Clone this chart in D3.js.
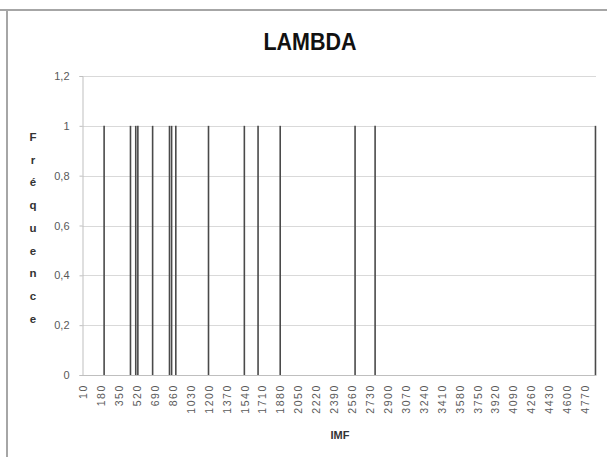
<!DOCTYPE html>
<html><head><meta charset="utf-8">
<script src="https://cdn.jsdelivr.net/npm/d3@7"></script>
<style>body{margin:0;background:#fff}svg{display:block}</style>
</head><body>
<script>
const title = "LAMBDA";
const xTitle = "IMF";
const yTitle = "Fréquence";
const imfValues = [210, 460, 510, 530, 670, 830, 850, 890, 1200, 1540, 1670, 1880, 2590, 2780, 4870];
const frequencies = [1, 1, 1, 1, 1, 1, 1, 1, 1, 1, 1, 1, 1, 1, 1];
const xTickLabels = [10,180,350,520,690,860,1030,1200,1370,1540,1710,1880,2050,2220,2390,2560,2730,2900,3070,3240,3410,3580,3750,3920,4090,4260,4430,4600,4770];
const yTickLabels = [0, 0.2, 0.4, 0.6, 0.8, 1, 1.2];

(function () {
const W = 609, H = 457;
const svg = d3.select("body").append("svg").attr("width", W).attr("height", H);

// outer frame fragments
svg.append("line").attr("x1",0).attr("x2",607).attr("y1",10).attr("y2",10).attr("stroke","#a6a6a6").attr("stroke-width",2);
svg.append("line").attr("x1",7).attr("x2",7).attr("y1",10).attr("y2",H).attr("stroke","#a6a6a6").attr("stroke-width",2);

const mLeft = 82.5, mRight = 596, mTop = 76, mBottom = 375;
const x = d3.scaleLinear().domain([5, 4875]).range([mLeft, mRight]);
const y = d3.scaleLinear().domain([0, 1.2]).range([mBottom, mTop]);

// gridlines
svg.append("g").selectAll("line").data(yTickLabels.filter(d => d > 0)).join("line")
  .attr("x1", mLeft).attr("x2", mRight)
  .attr("y1", d => Math.round(y(d)) + 0.5).attr("y2", d => Math.round(y(d)) + 0.5)
  .attr("stroke", "#d9d9d9").attr("stroke-width", 1);

// y axis
const yAxis = d3.axisLeft(y).tickValues(yTickLabels).tickSize(3).tickPadding(10)
  .tickFormat(d => String(d).replace(".", ","));
const gy = svg.append("g").attr("transform", `translate(${mLeft},0)`).call(yAxis);
gy.select(".domain").attr("stroke", "#bfbfbf");
gy.selectAll(".tick line").attr("stroke", "#bfbfbf");
gy.selectAll(".tick text").attr("fill", "#595959").attr("font-size", 11)
  .attr("font-family", "Liberation Sans, Arial, sans-serif");

// x axis
const xAxis = d3.axisBottom(x).tickValues(xTickLabels).tickSize(0).tickPadding(0)
  .tickFormat(d3.format("d"));
const gx = svg.append("g").attr("transform", `translate(0,${mBottom})`).call(xAxis);
gx.select(".domain").attr("stroke", "#bfbfbf");
gx.selectAll(".tick text")
  .attr("fill", "#595959").attr("font-size", 10.5)
  .attr("font-family", "Liberation Sans, Arial, sans-serif")
  .attr("letter-spacing", 1.6)
  .attr("text-anchor", "end")
  .attr("dy", "0.35em").attr("y", 0)
  .attr("transform", "translate(0,9) rotate(-90)");

// bars
svg.append("g").selectAll("line").data(imfValues).join("line")
  .attr("x1", d => x(d)).attr("x2", d => x(d))
  .attr("y1", (d, i) => y(frequencies[i])).attr("y2", y(0))
  .attr("stroke", "#4a4a4a").attr("stroke-width", 1.6);

// title
svg.append("text").attr("x", 310).attr("y", 50).attr("text-anchor", "middle")
  .attr("font-family", "Liberation Sans, Arial, sans-serif")
  .attr("textLength", 93).attr("lengthAdjust", "spacingAndGlyphs")
  .attr("font-weight", "bold").attr("font-size", 23).attr("fill", "#111").text(title);

// x title
svg.append("text").attr("x", 340).attr("y", 439).attr("text-anchor", "middle")
  .attr("font-family", "Liberation Sans, Arial, sans-serif")
  .attr("font-weight", "bold").attr("font-size", 11).attr("fill", "#333").text(xTitle);

// y title, stacked letters
svg.append("g").selectAll("text").data(Array.from(yTitle)).join("text")
  .attr("x", 33).attr("y", (d, i) => 141 + i * 22.7).attr("text-anchor", "middle")
  .attr("font-family", "Liberation Sans, Arial, sans-serif")
  .attr("font-weight", "bold").attr("font-size", 11.5).attr("fill", "#333").text(d => d);
})();
</script>
</body></html>
